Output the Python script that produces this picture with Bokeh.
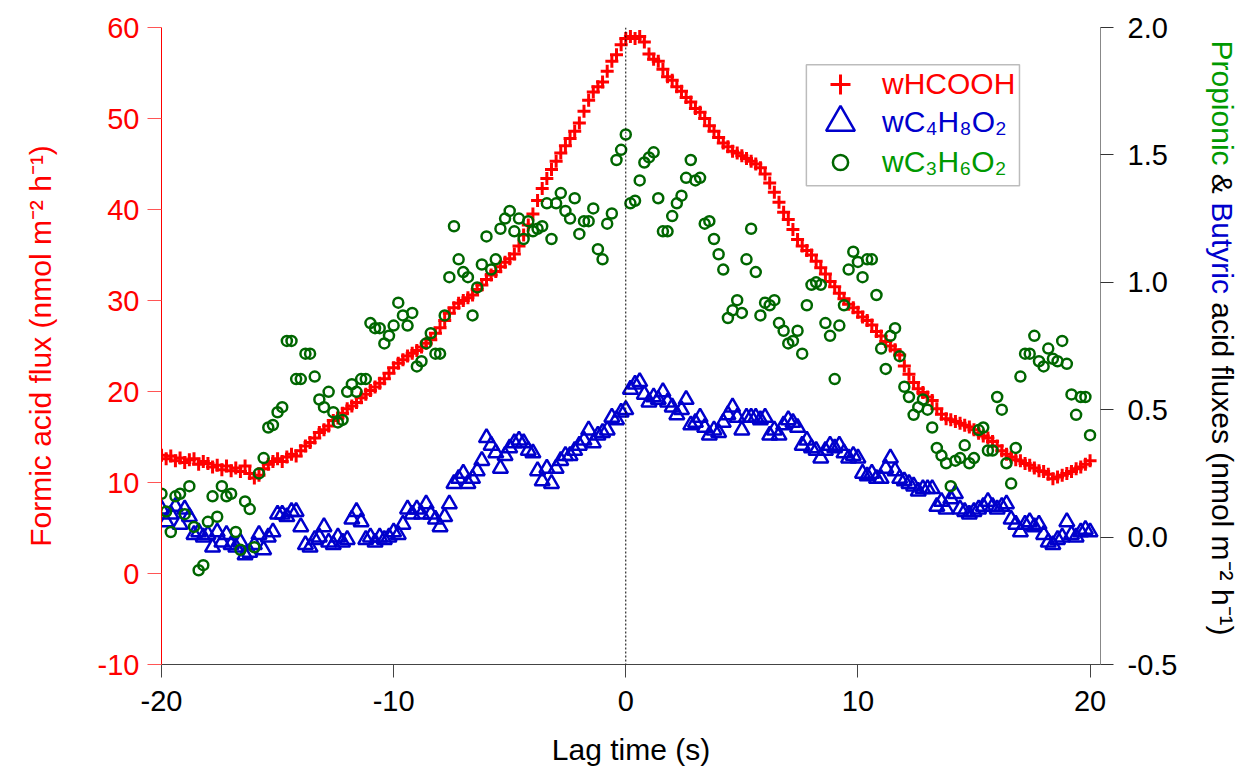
import math
from bokeh.plotting import figure
from bokeh.layouts import row
from bokeh.models import (Range1d, LinearAxis, FixedTicker, PrintfTickFormatter, Span,
                          Legend, LegendItem, Label, BoxAnnotation)
from bokeh.embed import file_html
from bokeh.resources import INLINE

# ---------------- data ----------------
LAG = [round(-20 + 0.2 * i, 1) for i in range(201)]  # lag time (s)

HCOOH = [  # formic acid flux, left axis
    13.0, 12.6, 12.9, 12.4, 12.7, 12.2, 12.5, 12.6, 12.0, 12.3,
    12.1, 11.7, 11.9, 11.4, 11.8, 11.3, 11.6, 11.2, 11.8, 11.0,
    10.5, 10.8, 11.5, 12.0, 12.3, 12.6, 12.3, 12.8, 13.1, 12.9,
    13.5, 14.0, 14.4, 14.9, 15.5, 15.8, 16.2, 16.8, 17.1, 17.6,
    18.1, 18.4, 18.8, 19.3, 19.7, 20.1, 20.5, 20.9, 21.4, 22.0,
    22.6, 23.1, 23.5, 23.9, 24.2, 24.5, 24.9, 25.3, 25.7, 26.4,
    27.0, 27.8, 28.6, 29.2, 29.7, 30.0, 30.3, 30.6, 31.2, 31.7,
    32.3, 32.8, 33.2, 33.7, 34.2, 34.6, 35.1, 36.0, 37.2, 38.3,
    39.5, 41.0, 42.3, 43.4, 44.4, 45.3, 46.2, 47.0, 47.8, 48.6,
    49.5, 50.8, 52.0, 52.9, 53.5, 54.0, 55.2, 56.3, 57.0, 58.1,
    58.8, 59.0, 58.8, 59.0, 58.4, 57.1, 56.5, 56.3, 55.4, 54.6,
    54.2, 53.5, 53.0, 52.3, 51.8, 51.1, 50.7, 50.0, 49.2, 48.6,
    47.9, 47.3, 46.9, 46.4, 46.2, 45.9, 45.6, 45.3, 45.0, 44.6,
    43.9, 42.9, 41.9, 40.8, 39.7, 38.9, 37.8, 36.7, 36.0, 35.5,
    35.0, 34.3, 33.6, 32.9, 32.1, 31.5, 30.8, 30.2, 29.6, 29.2,
    28.7, 28.2, 27.8, 27.3, 26.6, 26.1, 25.5, 25.0, 24.6, 24.0,
    22.8, 21.9, 21.0, 20.3, 19.9, 19.4, 19.0, 18.1, 17.5, 17.0,
    16.9, 16.7, 16.5, 16.3, 16.1, 15.8, 15.4, 15.1, 14.9, 14.5,
    14.0, 13.5, 13.1, 12.8, 12.5, 12.4, 12.1, 11.9, 11.6, 11.3,
    11.2, 10.9, 10.4, 10.6, 10.8, 11.0, 11.2, 11.5, 11.7, 12.0,
    12.4,
]

C4H8O2 = [  # butyric acid flux, right axis
    0.11, 0.06, 0.09, 0.12, 0.05, 0.11, 0.08, 0.01, 0.02, 0.00,
    0.01, -0.04, 0.02, -0.02, 0.01, -0.03, -0.04, -0.02, -0.07, -0.06,
    -0.03, 0.01, -0.05, 0.00, 0.02, 0.09, 0.09, 0.08, 0.10, 0.10,
    0.04, -0.03, -0.04, -0.01, 0.00, 0.04, -0.02, -0.03, 0.00, -0.02,
    -0.01, 0.07, 0.10, 0.06, -0.01, 0.00, -0.02, 0.00, -0.01, 0.00,
    0.02, 0.01, 0.05, 0.11, 0.09, 0.11, 0.09, 0.13, 0.09, 0.07,
    0.04, 0.08, 0.13, 0.21, 0.23, 0.25, 0.21, 0.23, 0.26, 0.30,
    0.39, 0.36, 0.33, 0.27, 0.32, 0.35, 0.37, 0.38, 0.37, 0.34,
    0.33, 0.26, 0.22, 0.27, 0.21, 0.27, 0.30, 0.32, 0.32, 0.34,
    0.36, 0.38, 0.42, 0.37, 0.40, 0.41, 0.42, 0.47, 0.46, 0.49,
    0.50, 0.58, 0.60, 0.61, 0.56, 0.53, 0.55, 0.54, 0.57, 0.53,
    0.51, 0.48, 0.50, 0.54, 0.44, 0.45, 0.47, 0.43, 0.40, 0.42,
    0.41, 0.45, 0.48, 0.51, 0.47, 0.42, 0.47, 0.47, 0.47, 0.46,
    0.47, 0.40, 0.42, 0.40, 0.44, 0.46, 0.45, 0.43, 0.36, 0.38,
    0.35, 0.34, 0.31, 0.34, 0.36, 0.35, 0.36, 0.33, 0.31, 0.32,
    0.31, 0.25, 0.24, 0.25, 0.23, 0.23, 0.27, 0.31, 0.26, 0.23,
    0.22, 0.21, 0.20, 0.18, 0.19, 0.19, 0.19, 0.12, 0.14, 0.11,
    0.15, 0.17, 0.11, 0.10, 0.09, 0.10, 0.11, 0.12, 0.14, 0.12,
    0.11, 0.12, 0.13, 0.07, 0.05, 0.02, 0.05, 0.06, 0.04, 0.05,
    0.01, -0.02, -0.03, -0.01, 0.00, 0.06, 0.01, 0.00, 0.02, 0.03,
    0.02,
]

C3H6O2 = [  # propionic acid flux, right axis
    0.17, 0.10, 0.02, 0.16, 0.17, 0.09, 0.20, 0.04, -0.13, -0.11,
    0.06, 0.16, 0.08, 0.20, 0.16, 0.17, 0.02, -0.05, 0.14, 0.11,
    -0.04, 0.25, 0.31, 0.43, 0.44, 0.49, 0.51, 0.77, 0.77, 0.62,
    0.62, 0.72, 0.72, 0.63, 0.54, 0.51, 0.57, 0.49, 0.45, 0.46,
    0.57, 0.60, 0.57, 0.62, 0.62, 0.84, 0.82, 0.82, 0.76, 0.79,
    0.83, 0.92, 0.87, 0.83, 0.88, 0.67, 0.69, 0.76, 0.80, 0.72,
    0.72, 0.87, 1.02, 1.22, 1.09, 1.04, 1.02, 0.87, 0.98, 1.07,
    1.18, 1.05, 1.09, 1.21, 1.25, 1.28, 1.20, 1.25, 1.17, 1.24,
    1.20, 1.21, 1.22, 1.31, 1.17, 1.31, 1.35, 1.28, 1.25, 1.33,
    1.19, 1.24, 1.24, 1.29, 1.13, 1.09, 1.23, 1.27, 1.48, 1.52,
    1.58, 1.31, 1.32, 1.40, 1.47, 1.49, 1.51, 1.33, 1.20, 1.20,
    1.26, 1.31, 1.34, 1.41, 1.48, 1.40, 1.41, 1.23, 1.24, 1.17,
    1.11, 1.05, 0.86, 0.89, 0.93, 0.88, 1.09, 1.21, 1.04, 0.87,
    0.92, 0.91, 0.93, 0.84, 0.81, 0.76, 0.77, 0.81, 0.72, 0.91,
    0.99, 1.00, 0.99, 0.84, 0.79, 0.62, 0.83, 0.91, 1.05, 1.12,
    1.08, 1.02, 1.09, 1.09, 0.95, 0.74, 0.66, 0.79, 0.82, 0.71,
    0.59, 0.55, 0.48, 0.51, 0.54, 0.50, 0.43, 0.35, 0.32, 0.29,
    0.20, 0.30, 0.31, 0.36, 0.29, 0.31, 0.42, 0.43, 0.34, 0.34,
    0.55, 0.50, 0.29, 0.21, 0.35, 0.63, 0.72, 0.72, 0.79, 0.69,
    0.67, 0.74, 0.70, 0.69, 0.77, 0.68, 0.56, 0.48, 0.55, 0.55,
    0.40,
]

X_TICKS = [-20, -10, 0, 10, 20]
LEFT_TICKS = [-10, 0, 10, 20, 30, 40, 50, 60]
RIGHT_TICKS = [-0.5, 0.0, 0.5, 1.0, 1.5, 2.0]

SERIES_NAMES = ["wHCOOH", "wC\u2084H\u2088O\u2082", "wC\u2083H\u2086O\u2082"]
X_LABEL = "Lag time (s)"
LEFT_LABEL = "Formic acid flux (nmol m\u207b\u00b2 h\u207b\u00b9)"
RIGHT_LABEL_PARTS = ["Propionic", "&", "Butyric", "acid fluxes (nmol m\u207b\u00b2 h\u207b\u00b9)"]

# ---------------- styling ----------------
FONT = "Liberation Sans"
RED = "#ff0000"
BLUE = "#0000cc"
GREEN_MARK = "#006600"
GREEN_TEXT = "#009900"

MAIN_W = 1190
TITLE_W = 1259 - MAIN_W
H = 772
FRAME_BOTTOM = 664  # canvas pixel row of the plot frame's bottom edge

p = figure(width=MAIN_W, height=H, output_backend="svg", toolbar_location=None,
           x_range=Range1d(-20, 20.45), y_range=Range1d(-10, 60),
           min_border_left=161, min_border_right=MAIN_W - 1100, min_border_top=27,
           min_border_bottom=H - FRAME_BOTTOM)
p.extra_y_ranges = {"right": Range1d(-0.5, 2.0)}
p.grid.visible = False
p.outline_line_color = None
p.background_fill_color = "white"
p.border_fill_color = "white"

# bottom axis
xa = p.xaxis[0]
xa.ticker = FixedTicker(ticks=X_TICKS)
xa.formatter = PrintfTickFormatter(format="%d")
xa.axis_label = X_LABEL
xa.axis_label_text_font = FONT
xa.axis_label_text_font_size = "30px"
xa.axis_label_text_font_style = "normal"
xa.axis_label_text_color = "black"
xa.axis_label_standoff = 19
xa.major_label_text_font = FONT
xa.major_label_text_font_size = "29px"
xa.major_label_text_color = "black"
xa.major_label_standoff = 13
xa.axis_line_color = "#444444"
xa.major_tick_line_color = "#444444"
xa.major_tick_in = 0
xa.major_tick_out = 13
xa.minor_tick_line_color = None

# left axis
ya = p.yaxis[0]
ya.ticker = FixedTicker(ticks=LEFT_TICKS)
ya.formatter = PrintfTickFormatter(format="%d")
ya.axis_label = LEFT_LABEL
ya.axis_label_text_font = FONT
ya.axis_label_text_font_size = "30px"
ya.axis_label_text_font_style = "normal"
ya.axis_label_text_color = RED
ya.axis_label_standoff = 38
ya.major_label_text_font = FONT
ya.major_label_text_font_size = "29px"
ya.major_label_text_color = RED
ya.major_label_standoff = 8
ya.axis_line_color = RED
ya.major_tick_line_color = "#ff5555"
ya.major_tick_in = 0
ya.major_tick_out = 14
ya.minor_tick_line_color = None

# right axis
ra = LinearAxis(y_range_name="right", ticker=FixedTicker(ticks=RIGHT_TICKS),
                formatter=PrintfTickFormatter(format="%.1f"))
ra.major_label_text_font = FONT
ra.major_label_text_font_size = "29px"
ra.major_label_text_color = "black"
ra.major_label_standoff = 14
ra.axis_line_color = "#888888"
ra.major_tick_line_color = "#333333"
ra.major_tick_in = 0
ra.major_tick_out = 13
ra.minor_tick_line_color = None
p.add_layout(ra, "right")

# zero-lag dashed line
p.add_layout(Span(location=0, dimension="height", line_color="black",
                  line_dash="2 2", line_width=1))

# series
r_red = p.scatter(LAG, HCOOH, marker="cross", size=13, line_color=RED, line_width=3)
r_blue = p.scatter(LAG, C4H8O2, marker="triangle", size=15, line_color=BLUE,
                   fill_color=None, line_width=2.5, y_range_name="right")
r_green = p.scatter(LAG, C3H6O2, marker="circle", size=10, line_color=GREEN_MARK,
                    fill_color=None, line_width=2.5, y_range_name="right")

# legend (one legend per entry so each label keeps its own colour) + frame box
box = BoxAnnotation(left=7.78, right=16.96, top=55.9, bottom=42.6,
                    fill_alpha=0, line_color="#222222", line_width=1.5)
p.add_layout(box)

legend_specs = [
    (r_red, SERIES_NAMES[0], RED, 50, (654, 555)),
    (r_blue, SERIES_NAMES[1], BLUE, 72, (643, 506)),
    (r_green, SERIES_NAMES[2], GREEN_TEXT, 38, (660, 483)),
]
for rend, name, col, g, loc in legend_specs:
    leg = Legend(items=[LegendItem(label=name, renderers=[rend])], location=loc,
                 glyph_width=g, glyph_height=g, label_standoff=int(42 - g / 2),
                 padding=0, margin=0, spacing=0,
                 border_line_alpha=0, background_fill_alpha=0,
                 label_text_font=FONT, label_text_font_size="30px",
                 label_text_color=col)
    p.add_layout(leg)

# narrow companion panel holding the multi-coloured right-axis title (reads top to bottom)
# (its frame is aligned by the row layout with the main frame: rows 27..664)
t = figure(width=TITLE_W, height=H, output_backend="svg", toolbar_location=None,
           x_range=Range1d(0, TITLE_W), y_range=Range1d(0, H),
           x_axis_type=None, y_axis_type=None, min_border=0)
t.grid.visible = False
t.outline_line_color = None
t.background_fill_color = "white"
t.border_fill_color = "white"

title_x = 1222 - MAIN_W
title_top = FRAME_BOTTOM - 40   # text starts 40 px below the canvas top
offsets = [0, 133.3, 161.7, 261.7]
colors = [GREEN_TEXT, "black", BLUE, "black"]
for txt, off, col in zip(RIGHT_LABEL_PARTS, offsets, colors):
    t.add_layout(Label(x=title_x, y=title_top - off, x_units="screen", y_units="screen",
                       text=txt, angle=-math.pi / 2, text_align="left",
                       text_baseline="middle", text_font=FONT,
                       text_font_size="30px", text_color=col))

layout = row(p, t, spacing=0)
open("out.html", "w").write(file_html(layout, INLINE))
